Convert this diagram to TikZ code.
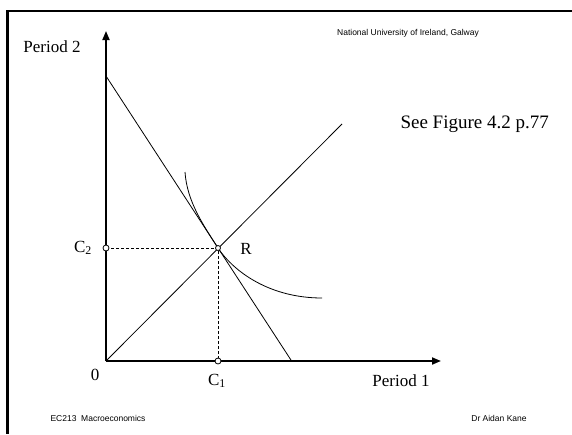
\documentclass[tikz,border=0pt]{standalone}
\usepackage{fontspec}
\setmainfont{Liberation Serif}
\newfontfamily\arialfont{Liberation Sans}
\usetikzlibrary{arrows.meta,positioning}

\begin{document}
\begin{tikzpicture}[x=1pt, y=-1pt, >={Triangle[length=9pt,width=7pt]},
    axis/.style={line width=1.8pt},
    thin line/.style={line width=0.8pt},
    guide/.style={dashed, line width=0.7pt, dash pattern=on 3pt off 2pt},
    knot/.style={circle, draw, fill=white, inner sep=0pt, minimum size=6pt, line width=0.8pt},
    big/.style={font=\fontsize{17}{19}\selectfont},
    small/.style={font=\arialfont\fontsize{8.5}{10}\selectfont}]
    \useasboundingbox (0,0) rectangle (572,434);
    % slide frame
    \fill (6,9.5) rectangle (572,12);
    \fill (6,9.5) rectangle (8.5,434);
    % axes
    \coordinate (O) at (106,361);
    \coordinate (ytip) at (106,31);
    \coordinate (xtip) at (441,361);
    \draw[axis,->] (O) -- (ytip);
    \draw[axis,->] (O) -- (xtip);
    \node[big] (per2) at (52,47) {Period 2};
    \node[big] (per1) at (401,381) {Period 1};
    \node[big] (zero) at (95,375) {0};
    % budget line and 45 degree line
    \coordinate (btop) at (106,76);
    \coordinate (bend) at (291.6,361);
    \coordinate (diag) at (342,124);
    \draw[thin line] (btop) -- (bend);
    \draw[thin line] (O) -- (diag);
    % indifference curve
    \coordinate (R) at (218,248);
    \draw[thin line] (185,172) .. controls (187,202) and (204,226) .. (R)
        .. controls (234,272) and (270,298) .. (322,298);
    % consumption point
    \draw[guide] (106,248) -- (R) -- (218,361);
    \node[knot] (c2dot) at (106,248) {};
    \node[knot] (c1dot) at (218,361) {};
    \node[knot, minimum size=5pt] (rdot) at (R) {};
    \node[big] (c2) at (83,248) {C$_{\mathrm{2}}$};
    \node[big] (c1) at (217,381) {C$_{\mathrm{1}}$};
    \node[big] (rlab) at (246,249) {R};
    % notes
    \node[big, font=\fontsize{19}{21}\selectfont, anchor=west] (note) at (397,124) {See Figure 4.2 p.77};
    \node[small] (uni) at (408,33) {National University of Ireland, Galway};
    \node[small] (course) at (98,418) {EC213\ \ Macroeconomics};
    \node[small] (lect) at (499,418) {Dr Aidan Kane};
\end{tikzpicture}
\end{document}
